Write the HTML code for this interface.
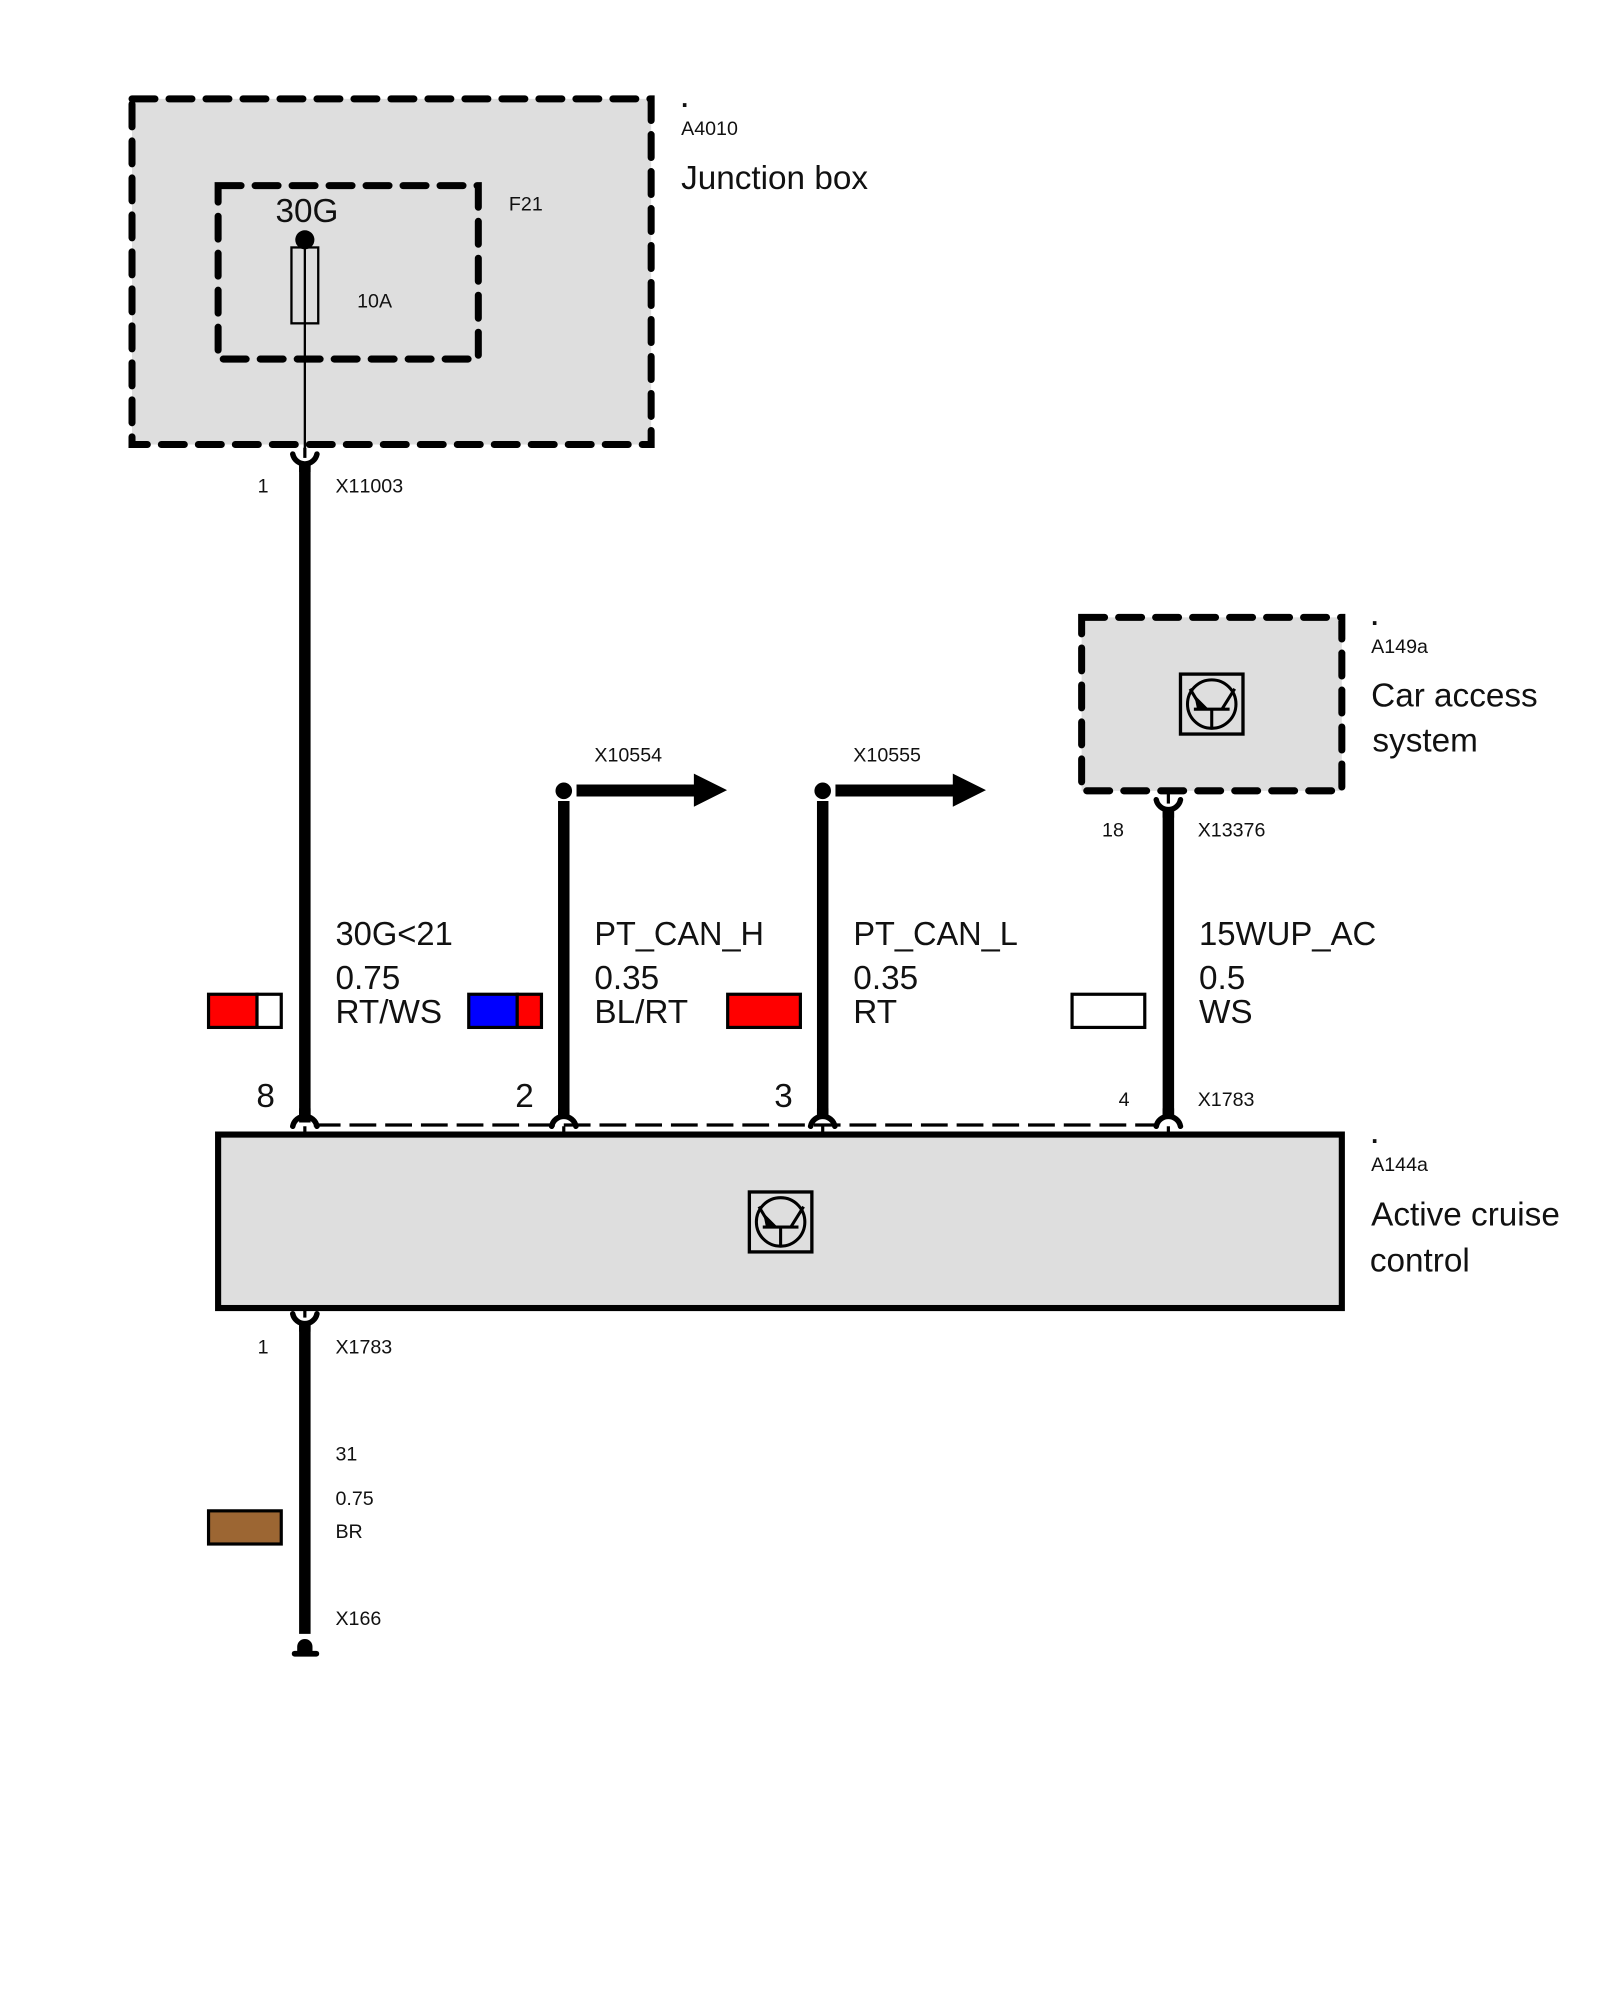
<!DOCTYPE html>
<html><head><meta charset="utf-8"><style>
html,body{margin:0;padding:0;background:#fff}
svg{display:block}
text{font-family:"Liberation Sans",sans-serif;fill:#111}
.s{font-size:15.4px;font-kerning:none}.m{font-size:26.1px}
</style></head><body>
<svg width="1600" height="2000" viewBox="0 0 1254.4 1568" xmlns="http://www.w3.org/2000/svg">
<defs>
<g id="tr" fill="none" stroke="#000" stroke-width="2.400">
<rect x="-24.500" y="-23.500" width="49" height="47" stroke-width="2.600"/>
<circle cx="0" cy="0" r="19"/>
<path d="M-14 4H14M0 4V19M-17-12L-8 3M18-12L8 4"/>
<path d="M-13-6L-4 3L-11 4Z" fill="#000" stroke-width="1"/>
</g>
<g id="up" fill="none" stroke="#000">
<path d="M-9.500 6A9.700 9.700 0 0 1 9.500 6" stroke-width="4.300" stroke-linecap="round"/>
<path d="M0 6V12" stroke-width="2.500"/>
<path d="M-4.500 -8V-3L-7 0H7L4.500 -3V-8Z" fill="#000" stroke="none"/>
</g>
<g id="dn" fill="none" stroke="#000">
<path d="M-9.500 -6A9.700 9.700 0 0 0 9.500 -6" stroke-width="4.300" stroke-linecap="round"/>
<path d="M0 -11V-3" stroke-width="2.500"/>
<path d="M-4.500 8V3L-7 0H7L4.500 3V8Z" fill="#000" stroke="none"/>
</g>
</defs>

<!-- Junction box -->
<rect x="103.500" y="77.500" width="407" height="271" fill="#dedede"/>
<path d="M103.500 77.500H510.500V348.500H103.500Z" fill="none" stroke="#000" stroke-width="5.500" stroke-linecap="round" stroke-dasharray="18 11"/>
<path d="M171 145.500H375V281.500H171Z" fill="none" stroke="#000" stroke-width="5.500" stroke-linecap="round" stroke-dasharray="18 11"/>
<rect x="228.500" y="194" width="21" height="59.500" fill="#dedede" stroke="#000" stroke-width="1.800"/>
<path d="M239 194V354" stroke="#000" stroke-width="1.800"/>
<circle cx="239" cy="188" r="7.500"/>
<use href="#dn" x="239" y="362"/>
<path d="M239 362V880" stroke="#000" stroke-width="9"/>

<!-- Car access -->
<rect x="848" y="484" width="204" height="136" fill="#dedede"/>
<path d="M848 484H1052V620H848Z" fill="none" stroke="#000" stroke-width="5.500" stroke-linecap="round" stroke-dasharray="18 11"/>
<use href="#tr" x="950" y="552"/>
<use href="#dn" x="916" y="633"/>
<path d="M916 633V876" stroke="#000" stroke-width="9"/>

<!-- Wires with arrows -->
<path d="M442 628V876M645 628V876" stroke="#000" stroke-width="9"/>
<circle cx="442" cy="620" r="6.500"/><circle cx="645" cy="620" r="6.500"/>
<path d="M452 615H544V606.500L570 619.500L544 632.500V624.500H452Z"/>
<path d="M655 615H747V606.500L773 619.500L747 632.500V624.500H655Z"/>

<!-- Module A144a -->
<path d="M246 882H908" stroke="#000" stroke-width="2.600" stroke-dasharray="21 7"/>
<rect x="171" y="889.500" width="881" height="136" fill="#dedede" stroke="#000" stroke-width="4.800"/>
<use href="#up" x="239" y="877"/><use href="#up" x="442" y="877"/><use href="#up" x="645" y="877"/><use href="#up" x="916" y="877"/>
<use href="#tr" x="612" y="958"/>
<use href="#dn" x="239" y="1036"/>
<path d="M239 1036V1281" stroke="#000" stroke-width="9"/>
<path d="M233 1296V1291A6 6 0 0 1 245 1291V1296Z"/>
<path d="M231 1296.500H248" stroke="#000" stroke-width="4.500" stroke-linecap="round"/>

<!-- Swatches -->
<g stroke="#000" stroke-width="2.500">
<rect x="163.500" y="779.500" width="38" height="26" fill="#ff0000"/><rect x="201.500" y="779.500" width="19" height="26" fill="#fff"/>
<rect x="367.500" y="779.500" width="38" height="26" fill="#0000ff"/><rect x="405.500" y="779.500" width="19" height="26" fill="#ff0000"/>
<rect x="570.500" y="779.500" width="57" height="26" fill="#ff0000"/>
<rect x="840.500" y="779.500" width="57" height="26" fill="#fff"/>
<rect x="163.500" y="1184.500" width="57" height="26" fill="#9c6633"/>
</g>

<!-- Labels -->
<text class="m" x="534" y="84" font-weight="bold" style="font-size:20px">.</text>
<text class="s" x="534" y="106">A4010</text>
<text class="m" x="534" y="148">Junction box</text>
<text class="s" x="399" y="165">F21</text>
<text class="m" x="216" y="174">30G</text>
<text class="s" x="280" y="241">10A</text>
<text class="s" x="202" y="386">1</text>
<text class="s" x="263" y="386">X11003</text>
<text class="s" x="466" y="597">X10554</text>
<text class="s" x="669" y="597">X10555</text>
<text class="m" x="1075" y="490" font-weight="bold" style="font-size:20px">.</text>
<text class="s" x="1075" y="512">A149a</text>
<text class="m" x="1075" y="554">Car access</text>
<text class="m" x="1076" y="589">system</text>
<text class="s" x="864" y="656">18</text>
<text class="s" x="939" y="656">X13376</text>
<text class="m" x="263" y="741" textLength="92" lengthAdjust="spacingAndGlyphs">30G&lt;21</text><text class="m" x="263" y="775.500">0.75</text><text class="m" x="263" y="802">RT/WS</text>
<text class="m" x="466" y="741" textLength="133" lengthAdjust="spacingAndGlyphs">PT_CAN_H</text><text class="m" x="466" y="775.500">0.35</text><text class="m" x="466" y="802">BL/RT</text>
<text class="m" x="669" y="741" textLength="129" lengthAdjust="spacingAndGlyphs">PT_CAN_L</text><text class="m" x="669" y="775.500">0.35</text><text class="m" x="669" y="802">RT</text>
<text class="m" x="940" y="741" textLength="139" lengthAdjust="spacingAndGlyphs">15WUP_AC</text><text class="m" x="940" y="775.500">0.5</text><text class="m" x="940" y="802">WS</text>
<text class="m" x="201" y="868">8</text><text class="m" x="404" y="868">2</text><text class="m" x="607" y="868">3</text>
<text class="s" x="877" y="867">4</text>
<text class="s" x="939" y="867">X1783</text>
<text class="m" x="1075" y="896" font-weight="bold" style="font-size:20px">.</text>
<text class="s" x="1075" y="918">A144a</text>
<text class="m" x="1075" y="961">Active cruise</text>
<text class="m" x="1074" y="997">control</text>
<text class="s" x="202" y="1061">1</text>
<text class="s" x="263" y="1061">X1783</text>
<text class="s" x="263" y="1145">31</text>
<text class="s" x="263" y="1180">0.75</text>
<text class="s" x="263" y="1206">BR</text>
<text class="s" x="263" y="1274">X166</text>
</svg>
</body></html>
